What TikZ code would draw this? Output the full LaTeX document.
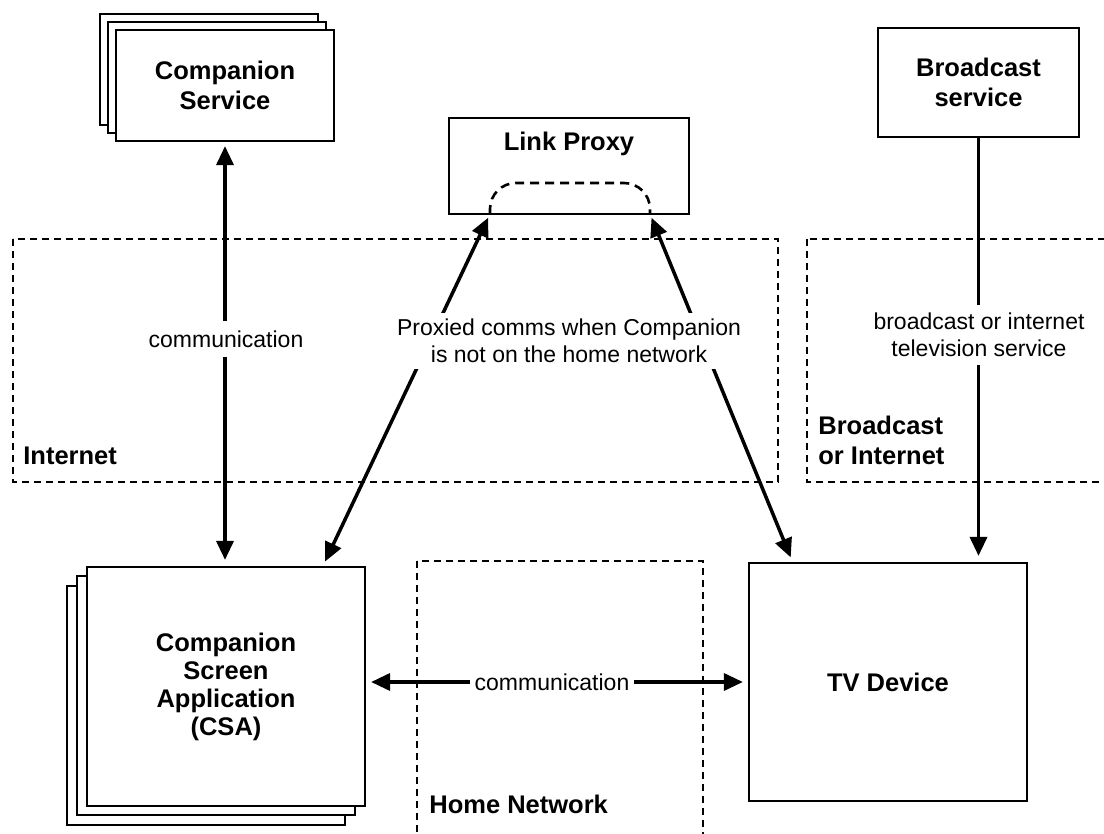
\documentclass[tikz,border=0pt]{standalone}
\usepackage{fontspec}
\setmainfont{Liberation Sans}
\usetikzlibrary{arrows.meta,positioning}

\tikzset{
  box/.style={draw, line width=1.1pt, fill=white, align=center, inner sep=0pt,
    font=\fontsize{12.75}{15}\selectfont\bfseries},
  region/.style={draw, line width=0.8pt, dash pattern=on 3.5pt off 2.5pt},
  link/.style={line width=1.75pt, {Triangle[length=9.5pt,width=8.5pt]}-{Triangle[length=9.5pt,width=8.5pt]}},
  feed/.style={line width=1.75pt, -{Triangle[length=9.5pt,width=8.5pt]}},
  tag/.style={fill=white, align=center, inner xsep=2.5pt, inner ysep=4pt,
    font=\fontsize{11.5}{13.5}\selectfont},
  zone/.style={anchor=base west, align=left, inner sep=0pt,
    font=\fontsize{12.75}{15}\selectfont\bfseries},
}

\begin{document}
\begin{tikzpicture}[x=0.5pt, y=-0.5pt]
    \useasboundingbox (0,0) rectangle (1104,834);

    % Regions
    \draw[region] (13,239) rectangle (778,482);
    \draw[region] (807,239) rectangle (1115,482);
    \draw[region] (417,561) rectangle (703,845);
    \node[zone] (internet) at (23,465) {Internet};
    \node[zone] (bcastzone) at (818,465) {Broadcast\\or Internet};
    \node[zone] (homenet) at (429,813) {Home Network};

    % Companion Service (stack)
    \node[box, minimum width=109pt, minimum height=55.5pt] (svc3) at (209,69.5) {};
    \node[box, minimum width=109pt, minimum height=55.5pt] (svc2) at (217,77.5) {};
    \node[box, minimum width=109pt, minimum height=55.5pt] (svc) at (225,85.5) {Companion\\Service};

    % Link Proxy
    \node[box, minimum width=120pt, minimum height=48pt] (proxy) at (569,166) {};
    \node[font=\fontsize{12.75}{15}\selectfont\bfseries] (proxytext) at (569,144) {Link Proxy};
    \coordinate (pl) at (490,214);
    \coordinate (pr) at (650,214);
    \draw[line width=1.3pt, dash pattern=on 4.5pt off 3pt, rounded corners=13pt]
        (pl) -- (490,183) -- (650,183) -- (pr);

    % Broadcast service
    \node[box, minimum width=100.5pt, minimum height=54.5pt] (bcast) at (978.5,82.5) {Broadcast\\service};

    % CSA (stack)
    \node[box, minimum width=139pt, minimum height=119.5pt] (csa3) at (206,705.5) {};
    \node[box, minimum width=139pt, minimum height=119.5pt] (csa2) at (216,695.5) {};
    \node[box, minimum width=139pt, minimum height=119.5pt,
          font=\fontsize{12.75}{14}\selectfont\bfseries] (csa) at (226,686.5)
          {Companion\\Screen\\Application\\(CSA)};

    % TV Device
    \node[box, minimum width=139pt, minimum height=119pt] (tv) at (888,682) {TV Device};

    % Connectors
    \coordinate (csatip) at (323,566);
    \coordinate (tvtip) at (793,563);
    \draw[link, shorten <=2pt, shorten >=3pt] (svc.south) -- (svc.south |- csa.north);
    \draw[link, shorten <=2pt, shorten >=2.5pt] (pl) -- (csatip);
    \draw[link, shorten <=2pt, shorten >=3pt] (pr) -- (tvtip);
    \draw[feed, shorten >=3pt] (bcast.south) -- (bcast.south |- tv.north);
    \draw[link, shorten <=2.5pt, shorten >=2.5pt] (tv.west -| csa.east) -- (tv.west);

    % Labels
    \node[tag, inner ysep=5pt] (comm1) at (226,339) {communication};
    \node[tag, inner ysep=3pt] (proxied) at (569,341) {Proxied comms when Companion\\is not on the home network};
    \node[tag] (bcastlbl) at (979,335) {broadcast or internet\\television service};
    \node[tag, inner ysep=1pt] (comm2) at (552,682) {communication};
\end{tikzpicture}
\end{document}
